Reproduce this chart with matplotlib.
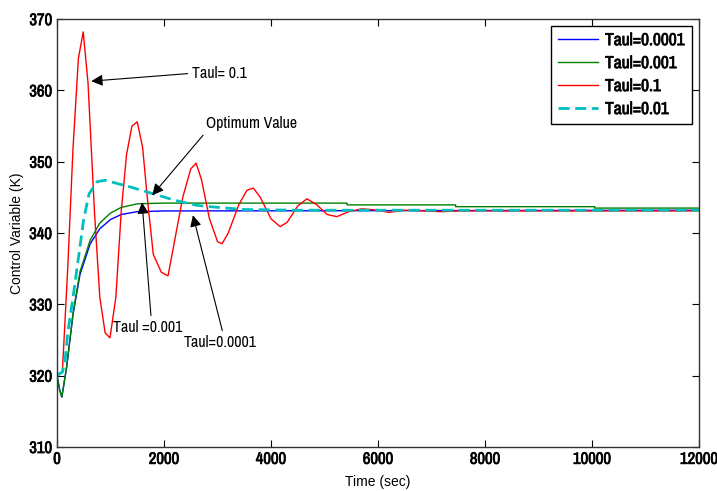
import numpy as np
import matplotlib
matplotlib.use('Agg')
import matplotlib.pyplot as plt
import matplotlib.patheffects as pe

plt.rcParams['font.family'] = ['Archivo Narrow', 'Roboto Condensed', 'Liberation Sans', 'DejaVu Sans']

# Taul=0.0001 (azul)
t_blue = [0, 50, 90, 180, 300, 430, 620, 800, 1000, 1200, 1500, 2000, 12000]
v_blue = [320, 318, 317, 321.2, 328.6, 334.2, 338.5, 340.6, 341.9, 342.6, 343.0, 343.1, 343.2]

# Taul=0.001 (verde)
t_green = [0, 50, 90, 180, 300, 430, 620, 800, 1000, 1200, 1500, 2000, 5420, 5420, 7450, 7450, 10050, 10050, 12000]
v_green = [320, 318, 317, 321.2, 328.8, 334.6, 339.0, 341.4, 342.8, 343.6, 344.1, 344.2, 344.2, 343.95, 343.95, 343.7, 343.7, 343.5, 343.5]

# Taul=0.1 (rojo)
t_red = [0, 100, 200, 300, 400, 490, 580, 700, 800, 900, 990, 1100, 1200, 1300, 1400, 1500, 1600,
         1700, 1800, 1950, 2075, 2200, 2350, 2500, 2600, 2700, 2850, 3000, 3085, 3200, 3400, 3550,
         3670, 3800, 4000, 4170, 4300, 4500, 4670, 4850, 5050, 5230, 5450, 5700, 6000, 6200, 6500,
         7200, 7500, 12000]
v_red = [320, 320.5, 335, 352, 364.5, 368.2, 361, 343, 331, 326, 325.3, 331, 343, 351, 355, 355.6, 352,
         344, 337, 334.5, 334, 339, 345, 349, 349.8, 347.5, 342, 338.8, 338.5, 340, 344, 346,
         346.3, 345, 342, 340.9, 341.5, 343.8, 344.8, 344, 342.6, 342.3, 343, 343.4, 343.2, 342.9, 343.2,
         343.0, 343.1, 343.1]

# Taul=0.01 (cian, discontinua)
t_cyan = [0, 50, 100, 150, 200, 300, 400, 500, 600, 750, 900, 1100, 1400, 1800, 2200, 2600, 3000, 3500, 4500, 12000]
v_cyan = [320, 320.3, 320.5, 322, 326, 331, 336.5, 342, 345.5, 347.2, 347.4, 347.0, 346.4, 345.5, 344.6, 343.9, 343.6, 343.3, 343.2, 343.2]

fig = plt.figure(figsize=(7.17, 4.91), dpi=100)
ax = fig.add_axes([0.0795, 0.0896, 0.8955, 0.8715])

ax.plot(t_blue, v_blue, color='#0000ff', lw=1, label='Taul=0.0001')
ax.plot(t_green, v_green, color='#008000', lw=1, label='Taul=0.001')
ax.plot(t_red, v_red, color='#ff0000', lw=1, label='Taul=0.1')
ax.plot(t_cyan, v_cyan, color='#00bfbf', lw=2, ls='--', dashes=(4, 2), label='Taul=0.01')

ax.set_xlim(0, 12000)
ax.set_ylim(310, 370)
ax.set_xticks(np.arange(0, 12001, 2000))
ax.set_yticks(np.arange(310, 371, 10))
ax.tick_params(direction='in', top=True, right=True, length=5, labelsize=12)

# negrita simulada con un trazo (la fuente estrecha no trae bold)
negrita = [pe.withStroke(linewidth=0.5, foreground='black')]
for lab in ax.get_xticklabels() + ax.get_yticklabels():
    lab.set_path_effects(negrita)
for s in ax.spines.values():
    s.set_linewidth(1)
    s.set_color('#333333')

ax.set_xlabel('Time (sec)', fontsize=10, family=['Liberation Sans', 'DejaVu Sans'])
ax.set_ylabel('Control Variable (K)', fontsize=10, family=['Liberation Sans', 'DejaVu Sans'])
ax.xaxis.set_label_coords(0.5, -0.066)
ax.yaxis.set_label_coords(-0.051, 0.5)


def anotar(txt, punta, pos, relpos):
    ax.annotate(txt, xy=punta, xytext=pos, textcoords='data', ha='left', va='center',
                fontsize=11.5, arrowprops=dict(arrowstyle='-|>', color='black', lw=0.8,
                                               mutation_scale=17, relpos=relpos, shrinkA=1, shrinkB=0))


anotar('Taul= 0.1', (640, 361.3), (2520, 362.4), (0, 0.5))
anotar('Optimum Value', (1780, 345.3), (2790, 355.3), (0, 0))
anotar('Taul =0.001', (1590, 344.3), (1050, 326.8), (0.55, 1))
anotar('Taul=0.0001', (2540, 342.5), (2360, 324.7), (0.55, 1))

leg = ax.legend(loc='upper right', fancybox=False, edgecolor='black', framealpha=1,
                prop={'size': 12.5}, handlelength=2.3, handletextpad=0.4,
                borderaxespad=0.4, labelspacing=0.45, borderpad=0.4)
leg.get_frame().set_linewidth(1)
for t in leg.get_texts():
    t.set_path_effects(negrita)

plt.savefig('out.png', dpi=100)
